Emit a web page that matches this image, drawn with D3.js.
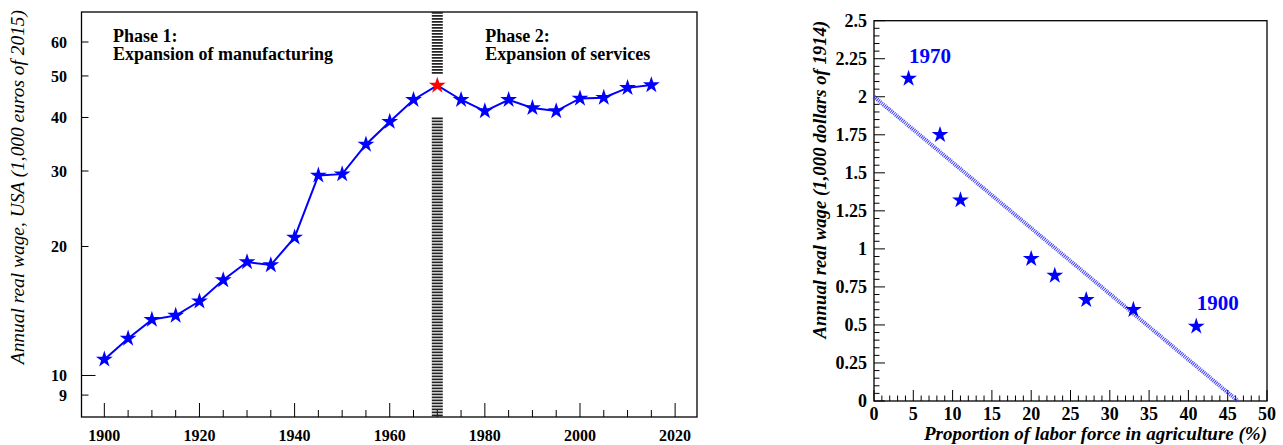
<!DOCTYPE html>
<html>
<head>
<meta charset="utf-8">
<script src="https://d3js.org/d3.v7.min.js"></script>
<style>
  body { margin: 0; background: #fff; }
  svg { display: block; font-family: "Liberation Serif", "Times New Roman", serif; }
</style>
</head>
<body>
<div id="chart"></div>
<script>
// left panel: annual real wage, USA (1,000 euros of 2015)
const years = [1900, 1905, 1910, 1915, 1920, 1925, 1930, 1935, 1940, 1945, 1950, 1955,
  1960, 1965, 1970, 1975, 1980, 1985, 1990, 1995, 2000, 2005, 2010, 2015];
const wages = [10.9, 12.2, 13.5, 13.8, 14.9, 16.7, 18.4, 18.1, 21.0, 29.3, 29.5, 34.6,
  39.1, 44.0, 47.5, 44.0, 41.4, 44.0, 42.1, 41.4, 44.3, 44.5, 46.9, 47.6];
const highlightYear = 1970;
const wageTicks = [9, 10, 20, 30, 40, 50, 60];
const yearTicks = [1900, 1920, 1940, 1960, 1980, 2000, 2020];
const phaseLabels = [
  { year: 1901.8, lines: ["Phase 1:", "Expansion of manufacturing"] },
  { year: 1980.1, lines: ["Phase 2:", "Expansion of services"] },
];

// right panel: wage vs share of labor force in agriculture
const agriShare = [4.4, 8.4, 11.0, 20.0, 23.0, 27.0, 33.0, 41.0];
const agriWage = [2.12, 1.75, 1.32, 0.935, 0.825, 0.665, 0.6, 0.49];
const fitLine = [[0, 2.0], [46.3, 0]];
const pointLabels = [
  { share: 4.4, wage: 2.12, text: "1970" },
  { share: 41.0, wage: 0.49, text: "1900" },
];
const agriTicks = d3.range(0, 51, 5);
const wageTicksR = d3.range(0, 2.51, 0.25);

const W = 1283, H = 445;
const svg = d3.select("#chart").append("svg").attr("width", W).attr("height", H);

function star(size) {
  return d3.symbol().type(d3.symbolStar).size(size)();
}

// ---------- left panel ----------
const L = { left: 81.5, right: 697, top: 12, bottom: 417 };
const xL = d3.scaleLinear().domain([1895.2, 2024.6]).range([L.left, L.right]);
const yL = d3.scaleLog().domain([8, 70.5]).range([L.bottom, L.top]);

const left = svg.append("g");

left.append("rect")
  .attr("x", L.left).attr("y", L.top)
  .attr("width", L.right - L.left).attr("height", L.bottom - L.top)
  .attr("fill", "none").attr("stroke", "#000").attr("stroke-width", 1.3);

// y ticks (inside)
left.selectAll("line.ytick").data(wageTicks).enter().append("line")
  .attr("x1", L.left).attr("x2", (d) => L.left + (d === 10 ? 14 : 7))
  .attr("y1", (d) => yL(d)).attr("y2", (d) => yL(d))
  .attr("stroke", "#000").attr("stroke-width", 1);
left.selectAll("text.ylab").data(wageTicks).enter().append("text")
  .attr("x", 67).attr("y", (d) => yL(d))
  .attr("dy", "0.35em").attr("text-anchor", "end")
  .attr("font-weight", "bold").attr("font-size", 16)
  .text((d) => d);

// x ticks (inside)
const minorYears = d3.range(1900, 2021, 5);
left.selectAll("line.xtick").data(minorYears).enter().append("line")
  .attr("x1", (d) => xL(d)).attr("x2", (d) => xL(d))
  .attr("y1", L.bottom).attr("y2", (d) => L.bottom - (d % 20 === 0 ? 14 : 7))
  .attr("stroke", "#000").attr("stroke-width", 1);
left.selectAll("text.xlab").data(yearTicks).enter().append("text")
  .attr("x", (d) => xL(d)).attr("y", 441)
  .attr("text-anchor", "middle")
  .attr("font-weight", "bold").attr("font-size", 16)
  .text((d) => d);

// axis title
left.append("text")
  .attr("transform", `translate(24,${L.top - 2}) rotate(-90)`)
  .attr("text-anchor", "end")
  .attr("font-style", "italic").attr("font-size", 19.4)
  .text("Annual real wage, USA (1,000 euros of 2015)");

// phase boundary: hatched band, broken around the 1970 point
const xb = xL(highlightYear);
[[yL.domain()[1], 50.3], [40, yL.domain()[0]]].forEach(([a, b]) => {
  left.append("line")
    .attr("x1", xb).attr("x2", xb)
    .attr("y1", yL(a)).attr("y2", yL(b))
    .attr("stroke", "#222").attr("stroke-width", 11)
    .attr("stroke-dasharray", "1.8,1.2");
});

// phase labels
phaseLabels.forEach((p) => {
  const t = left.append("text")
    .attr("x", xL(p.year)).attr("y", 41.5)
    .attr("font-weight", "bold").attr("font-size", 18);
  p.lines.forEach((s, i) => {
    t.append("tspan").attr("x", xL(p.year)).attr("dy", i === 0 ? 0 : 18).text(s);
  });
});

// series line + stars
const series = years.map((y, i) => ({ year: y, wage: wages[i] }));
left.append("path")
  .datum(series)
  .attr("d", d3.line().x((d) => xL(d.year)).y((d) => yL(d.wage)))
  .attr("fill", "none").attr("stroke", "#0000ff").attr("stroke-width", 2);
left.selectAll("path.star").data(series).enter().append("path")
  .attr("class", "star")
  .attr("transform", (d) => `translate(${xL(d.year)},${yL(d.wage)})`)
  .attr("d", star(88))
  .attr("fill", (d) => (d.year === highlightYear ? "#ff0000" : "#0000ff"));

// ---------- right panel ----------
const R = { left: 874, right: 1267, top: 20.7, bottom: 401 };
const xR = d3.scaleLinear().domain([0, 50]).range([R.left, R.right]);
const yR = d3.scaleLinear().domain([0, 2.5]).range([R.bottom, R.top]);

const right = svg.append("g");

right.append("rect")
  .attr("x", R.left).attr("y", R.top)
  .attr("width", R.right - R.left).attr("height", R.bottom - R.top)
  .attr("fill", "none").attr("stroke", "#000").attr("stroke-width", 1.3);

const minorWage = d3.range(0, 2.501, 0.05);
right.selectAll("line.ytick").data(minorWage).enter().append("line")
  .attr("x1", R.left)
  .attr("x2", (d, i) => R.left + (i % 5 === 0 ? 11 : 5.5))
  .attr("y1", (d) => yR(d)).attr("y2", (d) => yR(d))
  .attr("stroke", "#000").attr("stroke-width", 1);
right.selectAll("text.ylab").data(wageTicksR).enter().append("text")
  .attr("x", 867).attr("y", (d) => yR(d))
  .attr("dy", "0.35em").attr("text-anchor", "end")
  .attr("font-weight", "bold").attr("font-size", 18)
  .text((d) => d3.format("~g")(+d.toFixed(2)));

const minorShare = d3.range(0, 51, 1);
right.selectAll("line.xtick").data(minorShare).enter().append("line")
  .attr("x1", (d) => xR(d)).attr("x2", (d) => xR(d))
  .attr("y1", R.bottom).attr("y2", (d) => R.bottom - (d % 5 === 0 ? 11 : 5.5))
  .attr("stroke", "#000").attr("stroke-width", 1);
right.selectAll("text.xlab").data(agriTicks).enter().append("text")
  .attr("x", (d) => xR(d)).attr("y", 420)
  .attr("text-anchor", "middle")
  .attr("font-weight", "bold").attr("font-size", 18)
  .text((d) => d);

right.append("text")
  .attr("transform", `translate(826,${R.top}) rotate(-90)`)
  .attr("text-anchor", "end")
  .attr("font-weight", "bold").attr("font-style", "italic").attr("font-size", 18.8)
  .text("Annual real wage (1,000 dollars of 1914)");
right.append("text")
  .attr("x", R.right).attr("y", 440)
  .attr("text-anchor", "end")
  .attr("font-weight", "bold").attr("font-style", "italic").attr("font-size", 19)
  .text("Proportion of labor force in agriculture (%)");

// fit line (hatched)
right.append("line")
  .attr("x1", xR(fitLine[0][0])).attr("y1", yR(fitLine[0][1]))
  .attr("x2", xR(fitLine[1][0])).attr("y2", yR(fitLine[1][1]))
  .attr("stroke", "#3a3aff").attr("stroke-width", 4)
  .attr("stroke-dasharray", "1,1");

const pts = agriShare.map((s, i) => ({ share: s, wage: agriWage[i] }));
right.selectAll("path.star").data(pts).enter().append("path")
  .attr("transform", (d) => `translate(${xR(d.share)},${yR(d.wage)})`)
  .attr("d", star(88))
  .attr("fill", "#0000ff");

right.selectAll("text.plab").data(pointLabels).enter().append("text")
  .attr("x", (d) => xR(d.share) + 0.5).attr("y", (d) => yR(d.wage) - 16)
  .attr("fill", "#0000ff").attr("font-weight", "bold").attr("font-size", 21)
  .text((d) => d.text);
</script>
</body>
</html>
